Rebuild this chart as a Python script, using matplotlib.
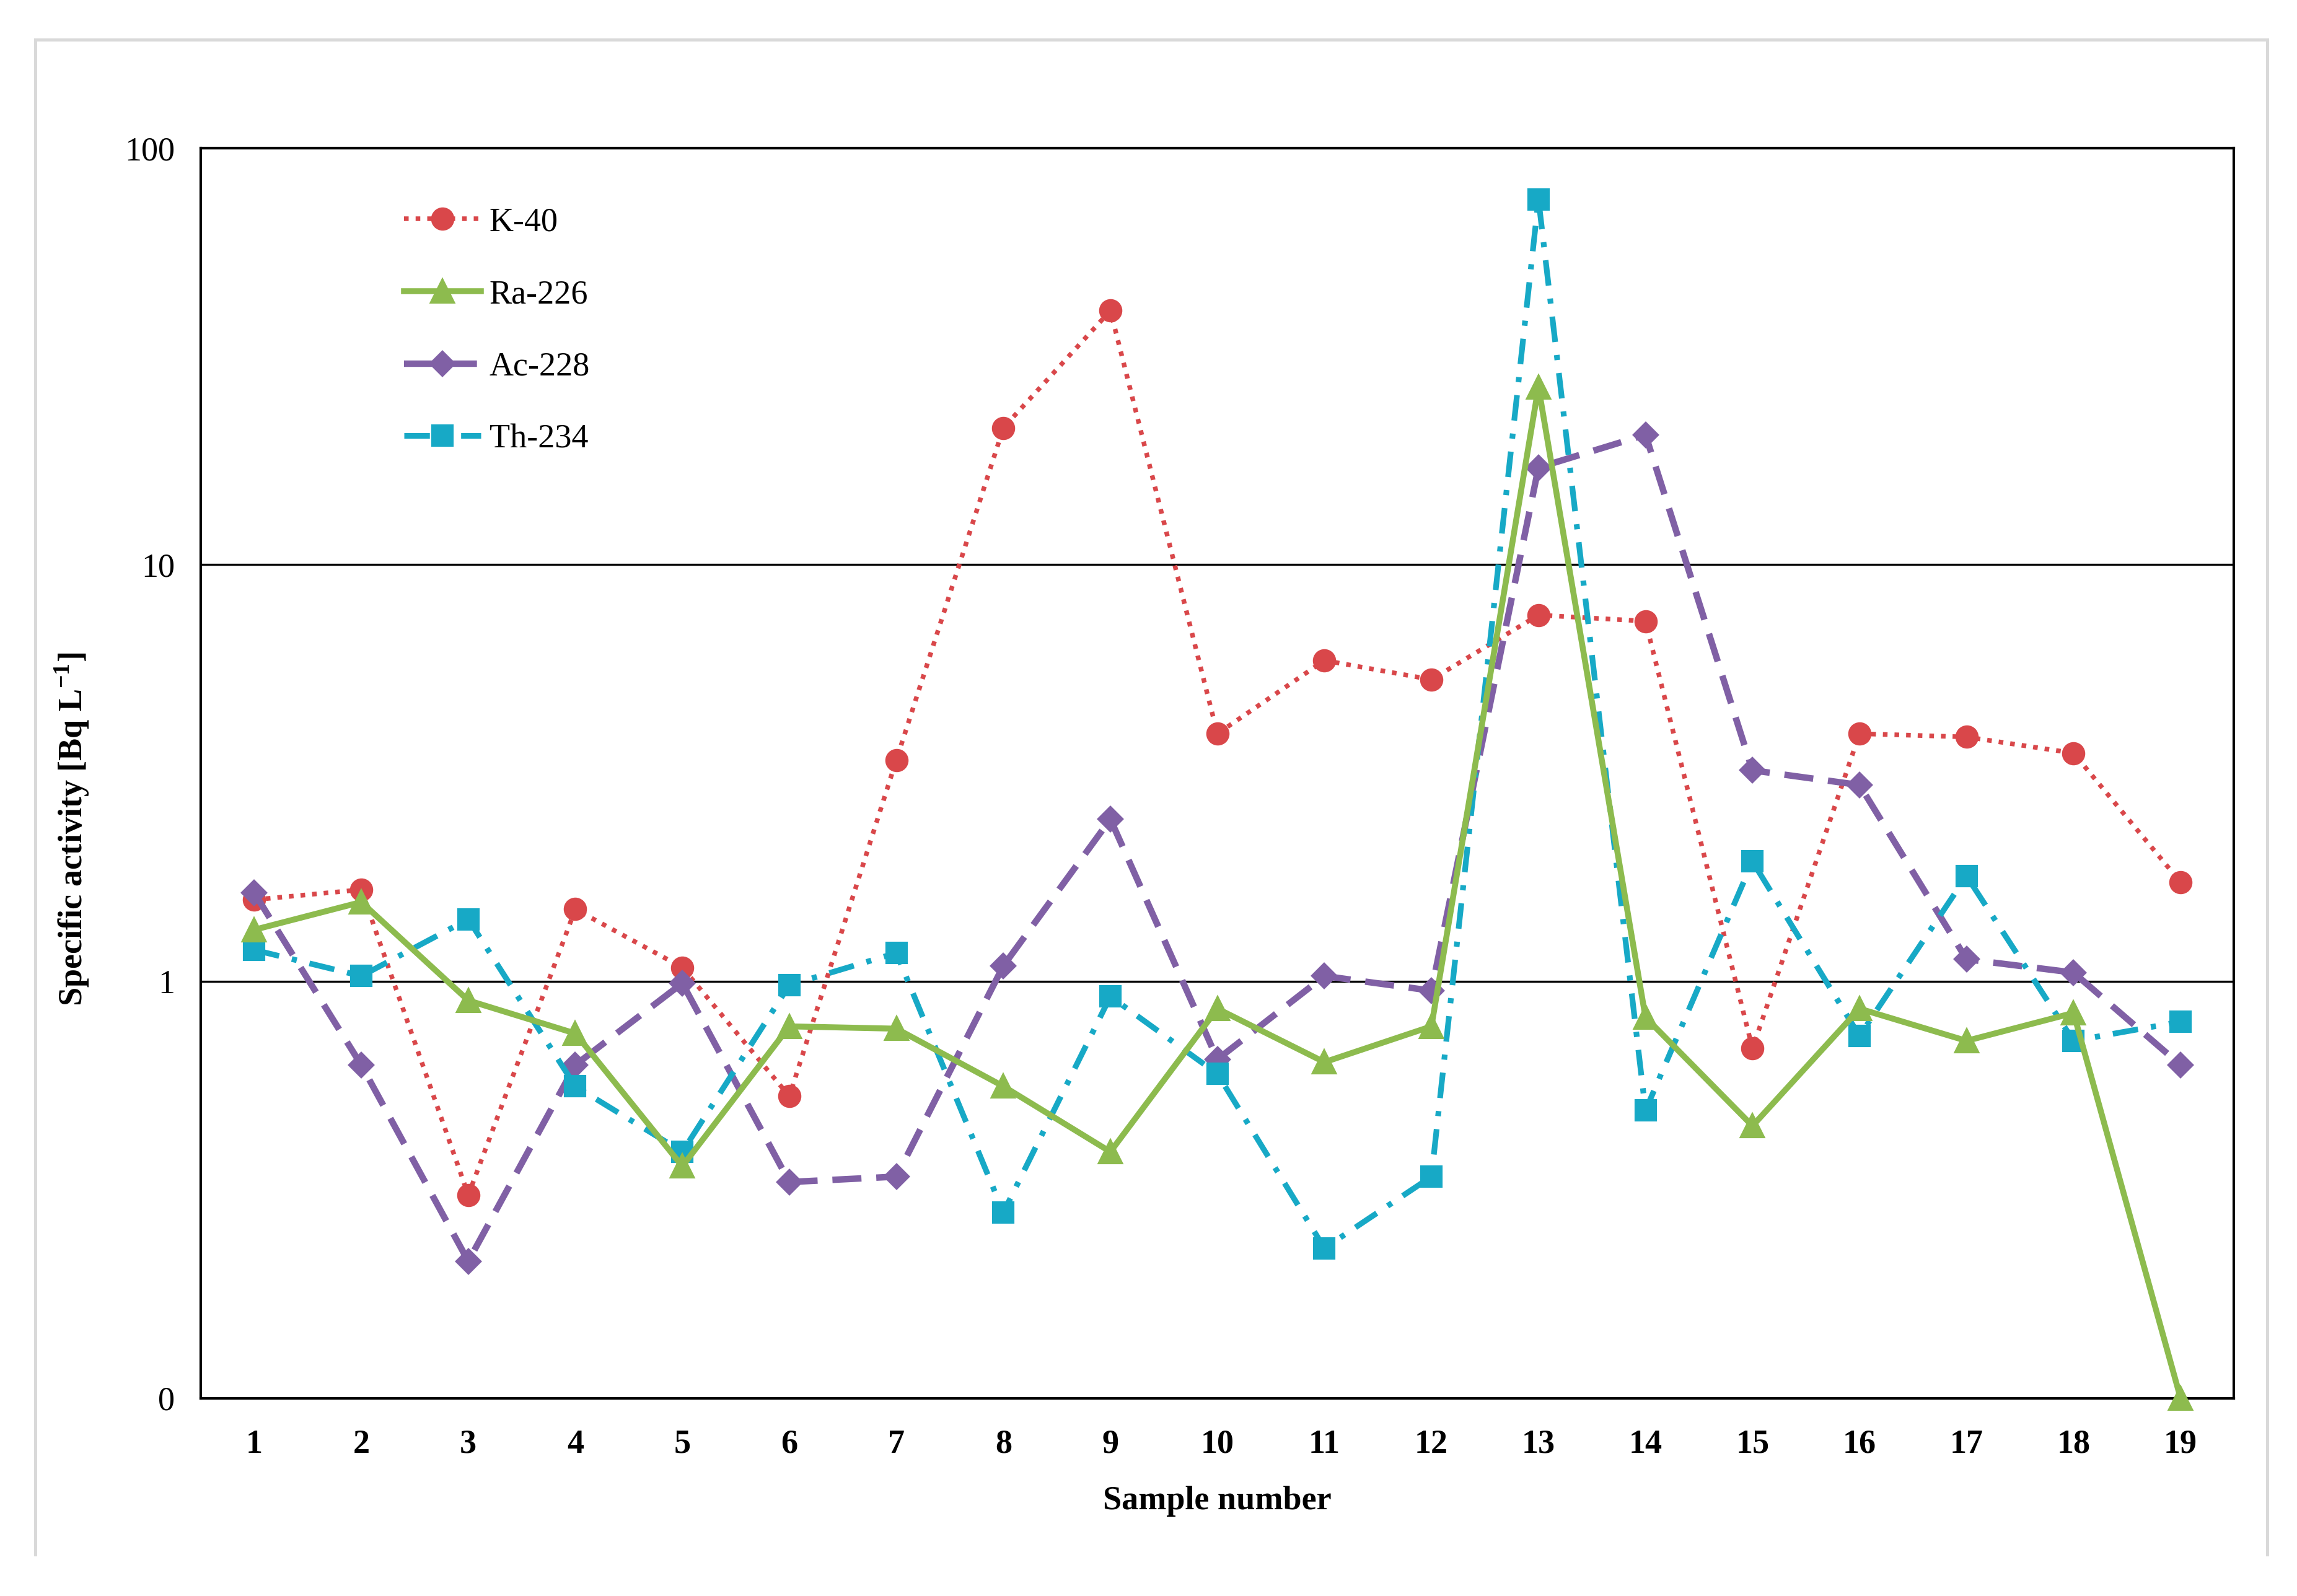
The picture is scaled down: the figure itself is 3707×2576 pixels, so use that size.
import numpy as np
import matplotlib
matplotlib.use('Agg')
import matplotlib.pyplot as plt
from matplotlib.lines import Line2D

plt.rcParams['font.family'] = ['Liberation Serif', 'DejaVu Serif']
plt.rcParams['mathtext.fontset'] = 'custom'
plt.rcParams['mathtext.rm'] = 'Liberation Serif'
plt.rcParams['mathtext.bf'] = 'Liberation Serif:bold'

# data
samples = list(range(1, 20))
k40 = [1.57, 1.66, 0.307, 1.49, 1.08, 0.53, 3.40, 21.3, 40.7, 3.93,
       5.89, 5.30, 7.57, 7.32, 0.69, 3.93, 3.86, 3.53, 1.73]
ra226 = [1.33, 1.55, 0.90, 0.75, 0.36, 0.78, 0.77, 0.56, 0.39, 0.86,
         0.64, 0.78, 26.7, 0.82, 0.45, 0.86, 0.72, 0.84, 0.1]
ac228 = [1.63, 0.63, 0.213, 0.63, 0.99, 0.33, 0.34, 1.09, 2.45, 0.65,
         1.03, 0.95, 17.1, 20.5, 3.21, 2.96, 1.13, 1.05, 0.63]
th234 = [1.19, 1.03, 1.41, 0.56, 0.39, 0.98, 1.17, 0.279, 0.92, 0.60,
         0.229, 0.34, 75.3, 0.49, 1.94, 0.74, 1.79, 0.72, 0.80]

yticks = [0.1, 1, 10, 100]
ytick_labels = ['0', '1', '10', '100']

fig = plt.figure(figsize=(3707 / 300, 2576 / 300), dpi=300)
ax = fig.add_axes([0.0874, 0.124, 0.9726 - 0.0874, 0.9073 - 0.124])

# outer grey frame
for xs, ys in [([0.0153, 0.0153], [0.026, 0.975]),
               ([0.0153, 0.987], [0.975, 0.975]),
               ([0.987, 0.987], [0.026, 0.975])]:
    fig.add_artist(Line2D(xs, ys, color='#d9d9d9', lw=1.2, transform=fig.transFigure))

x = np.array(samples)
ax.plot(x, k40, color='#D9474A', lw=1.8, ls=(0, (1, 1.5)), marker='o', ms=8,
        label='K-40', zorder=3, clip_on=False)
ax.plot(x, ra226, color='#8DBB4E', lw=2.3, ls='-', marker='^', ms=8.5,
        label='Ra-226', zorder=4, clip_on=False)
ax.plot(x, ac228, color='#8060A5', lw=2.5, ls=(0, (4.5, 2.3)), marker='D', ms=6.5,
        label='Ac-228', zorder=3, clip_on=False)
ax.plot(x, th234, color='#17A9C6', lw=2.2, ls=(0, (4.5, 2.3, 0.9, 2.3)), marker='s', ms=7.5,
        label='Th-234', zorder=3, clip_on=False)

ax.set_yscale('log')
ax.set_ylim(0.1, 100)
ax.set_xlim(0.5, 19.5)
ax.set_yticks(yticks)
ax.set_yticklabels(ytick_labels)
ax.yaxis.set_minor_locator(matplotlib.ticker.NullLocator())
ax.set_xticks(samples)
ax.set_xticklabels([str(s) for s in samples], fontweight='bold')
ax.tick_params(axis='both', length=0, labelsize=13)
ax.tick_params(axis='y', pad=10)
ax.tick_params(axis='x', pad=12)

ax.grid(True, axis='y', which='major', color='black', lw=0.8)
ax.set_axisbelow(True)
for sp in ax.spines.values():
    sp.set_linewidth(1.0)
    sp.set_color('black')

ax.set_xlabel('Sample number', fontsize=13, fontweight='bold', labelpad=10)
ax.set_ylabel(r'Specific activity [Bq L$^{\mathbf{-1}}$]', fontsize=13, fontweight='bold')
ax.yaxis.set_label_coords(-0.054, 0.455)

leg = ax.legend(loc='upper left', bbox_to_anchor=(0.085, 0.977), frameon=False,
                fontsize=13, handlelength=2.3, handletextpad=0.25, labelspacing=1.22)

fig.savefig('out.png', dpi=300, facecolor='white')
